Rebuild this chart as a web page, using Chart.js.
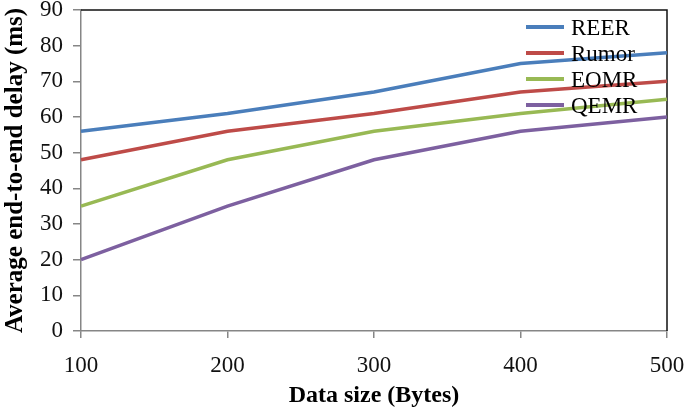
<!DOCTYPE html>
<html>
<head>
<meta charset="utf-8">
<script src="https://cdn.jsdelivr.net/npm/chart.js@4/dist/chart.umd.min.js"></script>
<style>
    html, body { margin: 0; padding: 0; background: #fff; }
    #wrap { width: 685px; height: 414px; }
</style>
</head>
<body>
<div id="wrap"><canvas id="delayChart" width="685" height="414"></canvas></div>
<script>
const dataSizes = ['100', '200', '300', '400', '500'];
const reerDelay = [56, 61, 67, 75, 78];
const rumorDelay = [48, 56, 61, 67, 70];
const eomrDelay = [35, 48, 56, 61, 65];
const qemrDelay = [20, 35, 48, 56, 60];
const yTicks = [0, 10, 20, 30, 40, 50, 60, 70, 80, 90];

const SERIES_COLORS = ['#4A7EBB', '#BE4B48', '#98B954', '#7D60A0'];
const AXIS_GRAY = '#868686';
const FONT = "'Liberation Serif', 'Times New Roman', serif";

// legend drawn inside the plot, top right, like the excel original
const insideLegend = {
    id: 'insideLegend',
    afterDraw(chart) {
        const { ctx, chartArea } = chart;
        const x0 = chartArea.right - 141;
        ctx.save();
        ctx.font = `23px ${FONT}`;
        ctx.textBaseline = 'middle';
        chart.data.datasets.forEach((ds, i) => {
            const y = chartArea.top + 17 + i * 26;
            ctx.strokeStyle = ds.borderColor;
            ctx.lineWidth = 4;
            ctx.beginPath();
            ctx.moveTo(x0, y);
            ctx.lineTo(x0 + 38, y);
            ctx.stroke();
            ctx.fillStyle = '#000';
            ctx.fillText(ds.label, x0 + 45, y + 2);
        });
        ctx.restore();
    },
};

// black frame on top and right of the plot area
const plotFrame = {
    id: 'plotFrame',
    beforeDatasetsDraw(chart) {
        const { ctx, chartArea } = chart;
        ctx.save();
        ctx.strokeStyle = '#111';
        ctx.lineWidth = 1.5;
        ctx.beginPath();
        ctx.moveTo(chartArea.left, chartArea.top);
        ctx.lineTo(chartArea.right, chartArea.top);
        ctx.lineTo(chartArea.right, chartArea.bottom);
        ctx.stroke();
        ctx.restore();
    },
};

const makeSet = (label, data, color) => ({
    label,
    data,
    borderColor: color,
    backgroundColor: color,
    borderWidth: 3.5,
    pointRadius: 0,
    tension: 0,
});

new Chart(document.getElementById('delayChart').getContext('2d'), {
    type: 'line',
    data: {
        labels: dataSizes,
        datasets: [
            makeSet('REER', reerDelay, SERIES_COLORS[0]),
            makeSet('Rumor', rumorDelay, SERIES_COLORS[1]),
            makeSet('EOMR', eomrDelay, SERIES_COLORS[2]),
            makeSet('QEMR', qemrDelay, SERIES_COLORS[3]),
        ],
    },
    options: {
        responsive: false,
        animation: false,
        layout: { padding: { top: 10, right: 18, left: 0, bottom: 0 } },
        plugins: {
            legend: { display: false },
            tooltip: { enabled: false },
        },
        scales: {
            x: {
                offset: false,
                border: { color: AXIS_GRAY, width: 1.5 },
                grid: { drawOnChartArea: false, drawTicks: true, tickLength: 7, color: AXIS_GRAY, lineWidth: 1.5 },
                ticks: { font: { family: FONT, size: 23 }, color: '#111', padding: 14, maxRotation: 0 },
                title: {
                    display: true,
                    text: 'Data size (Bytes)',
                    font: { family: FONT, size: 24, weight: 'bold' },
                    color: '#000',
                    padding: { top: 0, bottom: 4 },
                },
                afterFit(scale) {
                    scale.height = 83;
                    scale.paddingLeft = 0;
                    scale.paddingRight = 0;
                },
            },
            y: {
                min: 0,
                max: 90,
                afterBuildTicks(scale) { scale.ticks = yTicks.map((v) => ({ value: v })); },
                border: { color: AXIS_GRAY, width: 1.5 },
                grid: { drawOnChartArea: false, drawTicks: true, tickLength: 8, color: AXIS_GRAY, lineWidth: 1.5 },
                ticks: { font: { family: FONT, size: 23 }, color: '#111', padding: 10 },
                title: {
                    display: true,
                    text: 'Average end-to-end delay (ms)',
                    font: { family: FONT, size: 25, weight: 'bold' },
                    color: '#000',
                    padding: { top: 1, bottom: 0 },
                },
                afterFit(scale) {
                    scale.width = 81;
                    scale.paddingTop = 0;
                    scale.paddingBottom = 0;
                },
            },
        },
    },
    plugins: [plotFrame, insideLegend],
});
</script>
</body>
</html>
